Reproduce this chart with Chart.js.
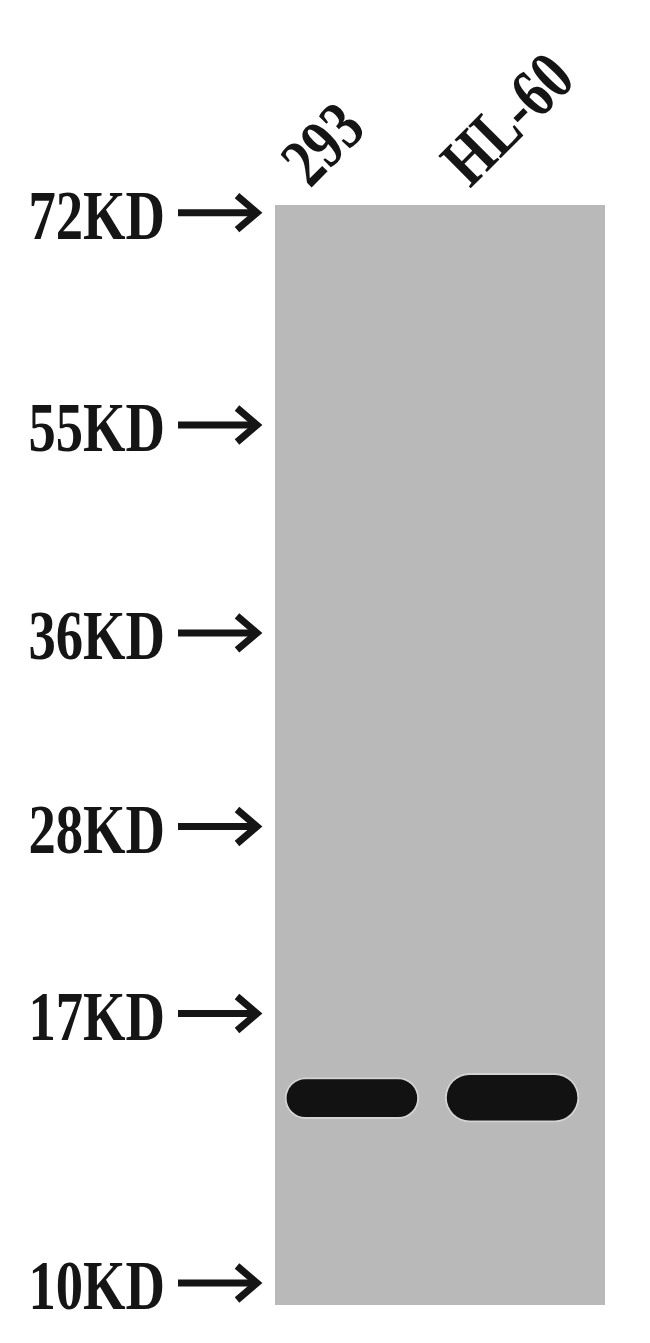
<!DOCTYPE html>
<html>
<head>
<meta charset="utf-8">
<script src="https://cdn.jsdelivr.net/npm/chart.js@4"></script>
<style>
  html, body { margin: 0; padding: 0; background: #fff; }
  canvas { display: block; }
</style>
</head>
<body>
<canvas id="blot" width="650" height="1343"></canvas>
<script>
// marker ladder (migration = % of gel length from the top)
const markerLabels = ['72KD', '55KD', '36KD', '28KD', '17KD', '10KD'];
const markerPos = [0.7, 20.0, 38.9, 56.5, 73.5, 98.0];

// lanes
const laneLabels = ['293', 'HL-60'];
const laneIndex = [1, 2];

// band edges per lane (migration %)
const bandTop = [79.3, 78.9];
const bandBottom = [83.1, 83.4];

const labelFont = 'bold 70px "Liberation Serif", "DejaVu Serif", serif';
const squeeze = 0.78;

const gelBackground = {
  id: 'gelBackground',
  beforeDraw(chart) {
    const { ctx, chartArea } = chart;
    ctx.save();
    ctx.fillStyle = '#b9b9b9';
    ctx.fillRect(chartArea.left, chartArea.top, chartArea.right - chartArea.left, chartArea.bottom - chartArea.top);
    ctx.restore();
  }
};

const blotLabels = {
  id: 'blotLabels',
  afterDraw(chart) {
    const { ctx, chartArea } = chart;
    const y = chart.scales.y;
    const x = chart.scales.x;
    const left = chartArea.left;

    ctx.save();
    ctx.fillStyle = '#151515';
    ctx.strokeStyle = '#151515';
    ctx.font = labelFont;

    // marker labels + arrows
    markerPos.forEach((pos, i) => {
      const py = y.getPixelForValue(pos);

      ctx.lineWidth = 7;
      ctx.lineCap = 'butt';
      ctx.beginPath();
      ctx.moveTo(left - 97, py);
      ctx.lineTo(left - 22, py);
      ctx.stroke();

      ctx.lineWidth = 7;
      ctx.lineJoin = 'miter';
      ctx.beginPath();
      ctx.moveTo(left - 38, py - 17);
      ctx.lineTo(left - 18, py);
      ctx.lineTo(left - 38, py + 17);
      ctx.stroke();

      ctx.save();
      ctx.translate(left - 110, py + 26);
      ctx.scale(squeeze, 1);
      ctx.textAlign = 'right';
      ctx.textBaseline = 'alphabetic';
      ctx.fillText(markerLabels[i], 0, 0);
      ctx.restore();
    });

    // lane labels, rotated
    laneIndex.forEach((lane, i) => {
      const px = x.getPixelForValue(lane);
      ctx.save();
      ctx.translate(px - 42, chartArea.top - 16);
      ctx.rotate(-Math.PI / 4);
      ctx.scale(squeeze, 1);
      ctx.textAlign = 'left';
      ctx.textBaseline = 'alphabetic';
      ctx.fillText(laneLabels[i], 0, 0);
      ctx.restore();
    });

    ctx.restore();
  }
};

const ctx = document.getElementById('blot');

new Chart(ctx, {
  type: 'bar',
  data: {
    datasets: [{
      data: laneIndex.map((lane, i) => ({ x: lane, y: [bandTop[i], bandBottom[i]] })),
      backgroundColor: '#121212',
      borderColor: '#d3d3d3',
      borderWidth: 2,
      borderSkipped: false,
      borderRadius: 30,
      categoryPercentage: 1,
      barPercentage: 0.84
    }]
  },
  options: {
    responsive: false,
    animation: false,
    layout: { padding: { top: 0, left: 0, right: 45, bottom: 38 } },
    plugins: {
      legend: { display: false },
      tooltip: { enabled: false }
    },
    scales: {
      x: {
        type: 'linear',
        position: 'top',
        offset: false,
        min: 0.52,
        max: 2.58,
        grid: { display: false },
        border: { display: false },
        ticks: { display: false },
        afterBuildTicks: s => { s.ticks = laneIndex.map(v => ({ value: v })); },
        afterFit: s => { s.height = 205; }
      },
      y: {
        type: 'linear',
        reverse: true,
        offset: false,
        min: 0,
        max: 100,
        grid: { display: false },
        border: { display: false },
        ticks: { display: false },
        afterBuildTicks: s => { s.ticks = markerPos.map(v => ({ value: v })); },
        afterFit: s => { s.width = 275; }
      }
    }
  },
  plugins: [gelBackground, blotLabels]
});
</script>
</body>
</html>
